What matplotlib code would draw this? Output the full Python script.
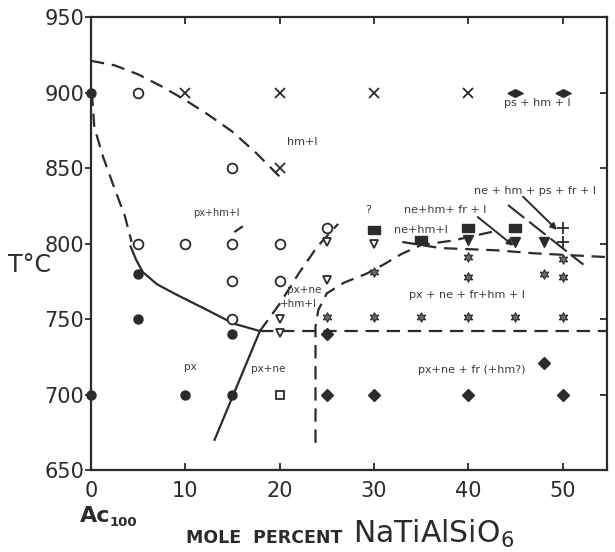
import matplotlib
matplotlib.use("Agg")
import matplotlib.pyplot as plt

INK = "#2b2b2b"

# ---- experimental runs (mole % NaTiAlSiO6, T in C) ----
px_x = [0, 5, 5, 10, 15, 15, 0]
px_y = [900, 780, 750, 700, 740, 700, 700]

open_circ_x = [5, 5, 10, 15, 15, 15, 15, 20, 20, 25]
open_circ_y = [900, 800, 800, 850, 800, 775, 750, 800, 775, 810]

cross_x = [10, 20, 20, 30, 40]
cross_y = [900, 900, 850, 900, 900]

ps_x = [45, 50]
ps_y = [900, 900]

open_tri_x = [25, 30, 25, 20, 20]
open_tri_y = [801, 800, 776, 750, 741]

rect_x = [30, 35, 40, 45]
rect_y = [809, 802, 810, 810]

fill_tri_x = [40, 45, 48]
fill_tri_y = [802, 801, 801]

plus_x = [50, 50]
plus_y = [810, 801]

star_x = [30, 40, 40, 48, 50, 50, 25, 30, 35, 40, 45, 50]
star_y = [781, 791, 778, 780, 790, 778, 751, 751, 751, 751, 751, 751]

diam_x = [25, 25, 30, 40, 48, 50]
diam_y = [740, 700, 700, 700, 721, 700]

square_x = [20]
square_y = [700]

# ---- phase boundaries ----
hm_curve_x = [0, 2.5, 5, 7.5, 10, 12.5, 15, 17.5, 20.2]
hm_curve_y = [921, 918, 912, 904, 895, 885, 874, 860, 843]

left_dash_x = [0.1, 0.35, 1.3, 2.4, 3.6, 4.3]
left_dash_y = [900, 877, 857, 838, 818, 801]

left_solid_x = [4.2, 4.8, 5.5, 7.0, 9.1, 12.3, 15.1, 17.9]
left_solid_y = [798, 789, 781, 773, 766, 756, 747, 742]

pxne_x = [17.9, 13.1]
pxne_y = [742, 670]

rise_x = [17.9, 20, 22, 24, 26.2]
rise_y = [742, 760, 780, 798, 813]

tick_dash_x = [15.3, 16.0]
tick_dash_y = [808, 811]

ne_x = [23.8, 23.8, 24.1, 25.0, 26.8, 29.2, 31.0, 32.9, 35.0, 38.4, 42.7]
ne_y = [668, 745, 756, 767, 774, 780, 786, 793, 799, 802, 808]

fr_x = [33, 37, 43, 47, 54.7]
fr_y = [801, 797, 795.5, 793.5, 791]

solidus_x = [17.9, 54.7]
solidus_y = [742, 742]

ps_line_x = [44.2, 52.2]
ps_line_y = [825.5, 786]

# arrows: (tail x, tail y, head x, head y)
arrows = [(41.0, 817.5, 44.8, 798.5), (45.8, 831, 49.4, 809)]

# phase field labels: (x, y, text, size, ha)
labels = [
    (22.4, 867, "hm+l", 8, "center"),
    (47.3, 893, "ps + hm + l", 8, "center"),
    (13.3, 820, "px+hm+l", 7, "center"),
    (20.8, 769, "px+ne", 7.5, "left"),
    (20.0, 760, "+hm+l", 7.5, "left"),
    (10.5, 718, "px", 7.5, "center"),
    (18.8, 717, "px+ne", 7.5, "center"),
    (29.4, 822, "?", 8, "center"),
    (32.1, 809, "ne+hm+l", 8, "left"),
    (37.5, 822, "ne+hm+ fr + l", 8, "center"),
    (47.1, 835, "ne + hm + ps + fr + l", 8, "center"),
    (39.9, 766, "px + ne + fr+hm + l", 8, "center"),
    (40.4, 716, "px+ne + fr (+hm?)", 8, "center"),
]

fig = plt.figure(figsize=(6.15, 5.52), dpi=100)
ax = fig.add_axes([91 / 615, 82 / 552, 516 / 615, 453 / 552])

dash = dict(color=INK, lw=1.6, linestyle=(0, (6, 3.5)))
ax.plot(hm_curve_x, hm_curve_y, **dash)
ax.plot(left_dash_x, left_dash_y, **dash)
ax.plot(rise_x, rise_y, **dash)
ax.plot(tick_dash_x, tick_dash_y, color=INK, lw=1.6)
ax.plot(ne_x, ne_y, **dash)
ax.plot(fr_x, fr_y, **dash)
ax.plot(solidus_x, solidus_y, **dash)
ax.plot(ps_line_x, ps_line_y, color=INK, lw=1.5, linestyle=(0, (10, 3)))
ax.plot(left_solid_x, left_solid_y, color=INK, lw=1.6)
ax.plot(pxne_x, pxne_y, color=INK, lw=1.6)

for x0, y0, x1, y1 in arrows:
    ax.annotate("", xy=(x1, y1), xytext=(x0, y0),
                arrowprops=dict(arrowstyle="-|>", color=INK, lw=1.4,
                                mutation_scale=9, shrinkA=0, shrinkB=0))

rect_marker = [(-1.6, -0.9), (1.6, -0.9), (1.6, 0.9), (-1.6, 0.9), (-1.6, -0.9)]
flat_diamond = [(-1.7, 0), (0, 0.85), (1.7, 0), (0, -0.85), (-1.7, 0)]

ax.plot(px_x, px_y, "o", color=INK, ms=6.5, clip_on=False)
ax.plot(open_circ_x, open_circ_y, "o", mfc="white", mec=INK, mew=1.3, ms=7)
ax.plot(cross_x, cross_y, "x", color=INK, ms=6.5, mew=1.3)
ax.plot(ps_x, ps_y, ls="none", marker=flat_diamond, color=INK, ms=11)
ax.plot(open_tri_x, open_tri_y, "v", mfc="white", mec=INK, mew=1.3, ms=6)
ax.plot(rect_x, rect_y, ls="none", marker=rect_marker, color=INK, ms=9)
ax.plot(fill_tri_x, fill_tri_y, "v", color=INK, ms=6.5)
ax.plot(plus_x, plus_y, "+", color=INK, ms=8, mew=1.3)
ax.plot(star_x, star_y, ls="none", marker=(6, 1, 0), mfc="#6a6a6a", mec=INK,
        mew=0.8, ms=7)
ax.plot(diam_x, diam_y, "D", color=INK, ms=6)
ax.plot(square_x, square_y, "s", mfc="white", mec=INK, mew=1.3, ms=6)

for x, y, s, fs, ha in labels:
    ax.text(x, y, s, fontsize=fs, ha=ha, va="center", color="#3a3a3a")

ax.set_xlim(0, 54.7)
ax.set_ylim(650, 950)
ax.set_xticks([0, 10, 20, 30, 40, 50])
ax.set_yticks([650, 700, 750, 800, 850, 900, 950])
for sp in ax.spines.values():
    sp.set_linewidth(1.6)
    sp.set_color(INK)
ax.tick_params(axis="x", direction="in", top=True, length=5, width=1.3,
               color=INK, pad=8, labelsize=15, labelcolor=INK)
ax.tick_params(axis="y", direction="out", length=4, width=1.3, color=INK,
               pad=1, labelsize=15, labelcolor=INK)
right = ax.secondary_yaxis("right")
right.set_yticks([700, 750, 800, 850, 900])
right.tick_params(direction="in", length=5, width=1.3, color=INK,
                  labelright=False)
right.spines["right"].set_visible(False)

fig.text(29 / 615, 1 - 265 / 552, "T°C", fontsize=17, ha="center",
         va="center", color=INK)
fig.text(80 / 615, 1 - 522 / 552, "Ac", fontsize=16, ha="left",
         va="baseline", color=INK, fontweight="bold")
fig.text(110 / 615, 1 - 526 / 552, "100", fontsize=9.5, ha="left",
         va="baseline", color=INK, fontweight="bold")
fig.text(186 / 615, 1 - 543 / 552, "MOLE  PERCENT", fontsize=12.5,
         ha="left", va="baseline", color=INK, fontweight="bold")
fig.text(353 / 615, 1 - 543 / 552, "NaTiAlSiO$_6$", fontsize=21.5,
         ha="left", va="baseline", color=INK)

fig.savefig("out.png", dpi=100, facecolor="white")
